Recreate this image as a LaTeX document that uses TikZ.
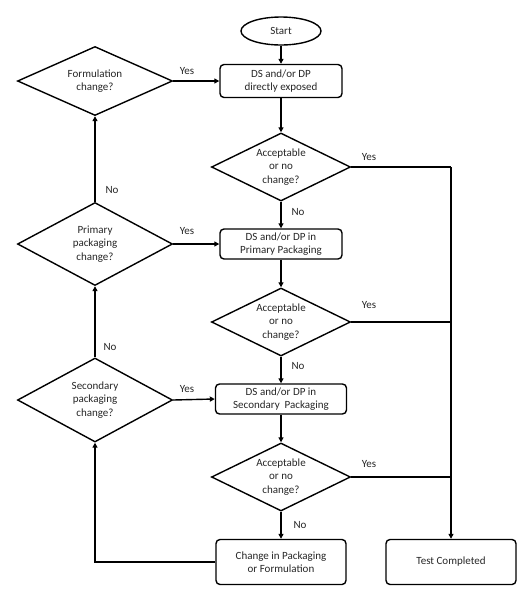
\documentclass[tikz,border=0pt]{standalone}
\usepackage{fontspec}
\setmainfont{Carlito}
\usetikzlibrary{shapes.geometric,arrows.meta}
\begin{document}
\begin{tikzpicture}[x=1pt,y=-1pt,
  font=\fontsize{11}{13.5}\selectfont,
  every node/.style={text=black!85},
  box/.style={draw=black,line width=1.4pt,rounded corners=4pt,align=center,inner sep=0pt},
  dec/.style={draw=black,line width=1.4pt,diamond,aspect=2,inner sep=0pt,align=center},
  term/.style={draw=black,line width=1.4pt,ellipse,inner sep=0pt,minimum width=80pt,minimum height=28pt},
  lab/.style={text=black!85,inner sep=0pt},
  conn/.style={line width=1.4pt,draw=black},
  arr/.style={conn,-{Triangle[length=5pt,width=5pt]}}]
\useasboundingbox (0,0) rectangle (521,606);
\node[term] (start) at (281,31) {Start};
\node[box,minimum width=122pt,minimum height=33pt] (b1) at (281,81) {DS and/or DP\\directly exposed};
\node[dec,minimum width=139pt,minimum height=68pt] (d1) at (281,167) {Acceptable\\or no\\change?};
\node[box,minimum width=122pt,minimum height=30pt] (b2) at (281,244) {DS and/or DP in\\Primary Packaging};
\node[dec,minimum width=139pt,minimum height=68pt] (d2) at (281,322) {Acceptable\\or no\\change?};
\node[box,minimum width=131pt,minimum height=30pt] (b3) at (281,399) {DS and/or DP in\\Secondary\ \ Packaging};
\node[dec,minimum width=139pt,minimum height=68pt] (d3) at (281,477) {Acceptable\\or no\\change?};
\node[box,minimum width=130pt,minimum height=45pt] (b4) at (281,562) {Change in Packaging\\or Formulation};
\node[box,minimum width=130pt,minimum height=45pt] (tc) at (451,562) {Test Completed};
\node[dec,minimum width=155pt,minimum height=69pt] (fc) at (95,81) {Formulation\\change?};
\node[dec,minimum width=155pt,minimum height=83pt] (pc) at (95,244) {Primary\\packaging\\change?};
\node[dec,minimum width=155pt,minimum height=84pt] (sc) at (95,400) {Secondary\\packaging\\change?};
\coordinate (j1) at (451,167);
\coordinate (j2) at (451,322);
\coordinate (j3) at (451,477);
% main flow
\draw[arr] (start) -- (b1);
\draw[arr] (b1) -- (d1);
\draw[arr] (d1) -- (b2);
\draw[arr] (b2) -- (d2);
\draw[arr] (d2) -- (b3);
\draw[arr] (b3) -- (d3);
\draw[arr] (d3) -- (b4);
% left loop
\draw[arr] (b4.west) -| (sc.south);
\draw[arr] (sc.north) -- (pc.south);
\draw[arr] (pc.north) -- (fc.south);
\draw[arr] (fc.east) -- (b1.west);
\draw[arr] (pc.east) -- (b2.west);
\draw[arr] (sc.east) -- (b3.west);
% right side
\draw[conn] (d1.east) -- (j1);
\draw[conn] (d2.east) -- (j2);
\draw[conn] (d3.east) -- (j3);
\draw[arr] (j1) -- (tc.north);
% labels
\node[lab] at (187,71) {Yes};
\node[lab] at (187,231) {Yes};
\node[lab] at (187,389) {Yes};
\node[lab] at (369,157) {Yes};
\node[lab] at (369,305) {Yes};
\node[lab] at (369,464) {Yes};
\node[lab] at (298,212) {No};
\node[lab] at (298,366) {No};
\node[lab] at (300,525) {No};
\node[lab] at (112,190) {No};
\node[lab] at (110,347) {No};
\end{tikzpicture}
\end{document}
